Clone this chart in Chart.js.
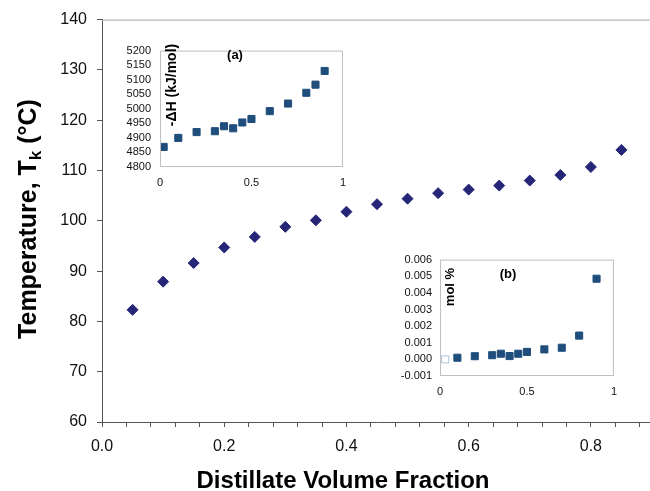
<!DOCTYPE html>
<html>
<head>
<meta charset="utf-8">
<script src="https://cdn.jsdelivr.net/npm/chart.js@4"></script>
<style>
  html, body { margin: 0; padding: 0; background: #fff; width: 650px; height: 491px; overflow: hidden; }
  canvas { position: absolute; }
  #mainChart { left: 0; top: 0; }
  #insetA { left: 115px; top: 35px; }
  #insetB { left: 380px; top: 245px; }
</style>
</head>
<body>
<canvas id="mainChart" width="660" height="491"></canvas>
<canvas id="insetA" width="240" height="160"></canvas>
<canvas id="insetB" width="246" height="160"></canvas>
<script>
// main plot: temperature vs distillate volume fraction
const distillateFraction = [0.05, 0.10, 0.15, 0.20, 0.25, 0.30, 0.35, 0.40, 0.45, 0.50, 0.55, 0.60, 0.65, 0.70, 0.75, 0.80, 0.85];
const temperature = [82.3, 87.9, 91.6, 94.7, 96.8, 98.8, 100.1, 101.8, 103.3, 104.4, 105.5, 106.2, 107.0, 108.0, 109.1, 110.7, 114.1];

// inset (a): -dH (kJ/mol)
const fractionA = [0.02, 0.10, 0.20, 0.30, 0.35, 0.40, 0.45, 0.50, 0.60, 0.70, 0.80, 0.85, 0.90];
const enthalpyA = [4869, 4900, 4920, 4923, 4940, 4933, 4953, 4965, 4992, 5018, 5055, 5083, 5130];

// inset (b): mol %
const fractionB = [0.10, 0.20, 0.30, 0.35, 0.40, 0.45, 0.50, 0.60, 0.70, 0.80, 0.90];
const molPercentB = [0.0001, 0.00019, 0.00025, 0.00034, 0.0002, 0.00034, 0.00045, 0.0006, 0.0007, 0.00143, 0.00485];
const openFractionB = [0.03];
const openMolPercentB = [0.0];

const mainXLabels = ["0.0", "0.2", "0.4", "0.6", "0.8"];
const FONT = "'Liberation Sans', Arial, sans-serif";
Chart.defaults.font.family = FONT;
Chart.defaults.color = "#111";

function toPoints(xs, ys) {
  return xs.map((x, i) => ({ x: x, y: ys[i] }));
}

const mainDecor = {
  id: "mainDecor",
  afterDraw(chart) {
    const ctx = chart.ctx;
    const a = chart.chartArea;
    ctx.save();
    // top border of plot area
    ctx.strokeStyle = "#a6a6a6";
    ctx.lineWidth = 1;
    ctx.beginPath();
    ctx.moveTo(a.left, a.top + 0.5);
    ctx.lineTo(a.right, a.top + 0.5);
    ctx.stroke();

    ctx.fillStyle = "#000";
    // x title
    ctx.font = "bold 24px " + FONT;
    ctx.textAlign = "center";
    ctx.textBaseline = "alphabetic";
    ctx.fillText("Distillate Volume Fraction", 343, 488);

    // y title with subscript k
    ctx.translate(36, 219);
    ctx.rotate(-Math.PI / 2);
    const big = "bold 25px " + FONT;
    const small = "bold 17px " + FONT;
    const p1 = "Temperature, T", p2 = "k", p3 = " (°C)";
    ctx.font = big;
    const w1 = ctx.measureText(p1).width, w3 = ctx.measureText(p3).width;
    ctx.font = small;
    const w2 = ctx.measureText(p2).width;
    let x = -(w1 + w2 + w3) / 2;
    ctx.textAlign = "left";
    ctx.font = big;
    ctx.fillText(p1, x, 0);
    x += w1;
    ctx.font = small;
    ctx.fillText(p2, x, 5);
    x += w2;
    ctx.font = big;
    ctx.fillText(p3, x, 0);
    ctx.restore();
  },
};

function insetDecor(label, labelPos, yTitle, yTitleFont, yTitlePos) {
  return {
    id: "insetDecor",
    afterDraw(chart) {
      const ctx = chart.ctx;
      const a = chart.chartArea;
      ctx.save();
      ctx.strokeStyle = "#bfbfbf";
      ctx.lineWidth = 1;
      ctx.strokeRect(a.left + 0.5, a.top + 0.5, a.right - a.left - 1, a.bottom - a.top - 1);
      ctx.fillStyle = "#000";
      ctx.font = "bold 13px " + FONT;
      ctx.textAlign = "center";
      ctx.textBaseline = "middle";
      ctx.fillText(label, labelPos[0], labelPos[1]);
      ctx.translate(yTitlePos[0], yTitlePos[1]);
      ctx.rotate(-Math.PI / 2);
      ctx.font = yTitleFont;
      ctx.fillText(yTitle, 0, 0);
      ctx.restore();
    },
  };
}

function renderMainChart() {
  new Chart(document.getElementById("mainChart"), {
    type: "scatter",
    data: {
      datasets: [
        {
          data: toPoints(distillateFraction, temperature),
          pointStyle: "rectRot",
          pointRadius: 5.5,
          pointHoverRadius: 5.5,
          backgroundColor: "#262678",
          borderColor: "#262678",
          borderWidth: 1,
        },
      ],
    },
    options: {
      responsive: false,
      animation: false,
      layout: { padding: { left: 0, top: 18, right: 8, bottom: 0 } },
      plugins: { legend: { display: false }, tooltip: { enabled: false } },
      scales: {
        x: {
          type: "linear",
          min: 0,
          max: 0.9,
          afterFit: (s) => { s.height = 69; },
          border: { display: true, color: "#555", width: 1 },
          grid: { display: true, drawOnChartArea: false, drawTicks: true, tickLength: 5, color: "#555" },
          ticks: {
            stepSize: 0.04,
            includeBounds: false,
            autoSkip: false,
            maxRotation: 0,
            padding: 10,
            font: { size: 16 },
            callback: (v) => {
              const k = v * 5;
              return Math.abs(k - Math.round(k)) < 1e-6 ? mainXLabels[Math.round(k)] : "";
            },
          },
        },
        y: {
          min: 60,
          max: 140,
          afterFit: (s) => { s.width = 102; },
          border: { display: true, color: "#555", width: 1 },
          grid: { display: true, drawOnChartArea: false, drawTicks: true, tickLength: 5, color: "#555" },
          ticks: { stepSize: 10, padding: 10, font: { size: 16 } },
        },
      },
    },
    plugins: [mainDecor],
  });
}

function renderInset(id, datasets, yOpts, yWidth, xHeight, padRight, decor) {
  new Chart(document.getElementById(id), {
    type: "scatter",
    data: { datasets: datasets },
    options: {
      responsive: false,
      animation: false,
      layout: { padding: { left: 0, top: 9, right: padRight, bottom: 0 } },
      plugins: { legend: { display: false }, tooltip: { enabled: false } },
      scales: {
        x: {
          type: "linear",
          min: 0,
          max: 1,
          afterFit: (s) => { s.height = xHeight; },
          border: { display: false },
          grid: { display: false, drawTicks: false },
          ticks: { stepSize: 0.5, padding: 9, maxRotation: 0, font: { size: 11 }, callback: (v) => String(v) },
        },
        y: Object.assign({
          afterFit: (s) => { s.width = yWidth; },
          border: { display: false },
          grid: { display: false, drawTicks: false },
        }, yOpts),
      },
    },
    plugins: [decor],
  });
}

const squareStyle = {
  pointStyle: "rect",
  pointRadius: 5,
  pointHoverRadius: 5,
  backgroundColor: "#1f4e7d",
  borderColor: "#1f4e7d",
  borderWidth: 1,
};

renderMainChart();

renderInset(
  "insetA",
  [Object.assign({ data: toPoints(fractionA, enthalpyA) }, squareStyle)],
  {
    min: 4800,
    max: 5200,
    ticks: { stepSize: 50, padding: 9, autoSkip: false, font: { size: 11 }, callback: (v) => String(v) },
  },
  45, 28, 8,
  insetDecor("(a)", [120, 20], "-ΔH (kJ/mol)", "bold 14px " + FONT, [57, 50])
);

renderInset(
  "insetB",
  [
    Object.assign({ data: toPoints(fractionB, molPercentB) }, squareStyle),
    Object.assign({}, squareStyle, {
      data: toPoints(openFractionB, openMolPercentB),
      backgroundColor: "#fff",
      borderColor: "#a9c4dc",
    }),
  ],
  {
    min: -0.001,
    max: 0.006,
    ticks: { stepSize: 0.001, padding: 8, autoSkip: false, font: { size: 11 }, callback: (v) => v.toFixed(3) },
  },
  60, 29, 12,
  insetDecor("(b)", [128, 29], "mol %", "bold 13px " + FONT, [70, 42])
);
</script>
</body>
</html>
